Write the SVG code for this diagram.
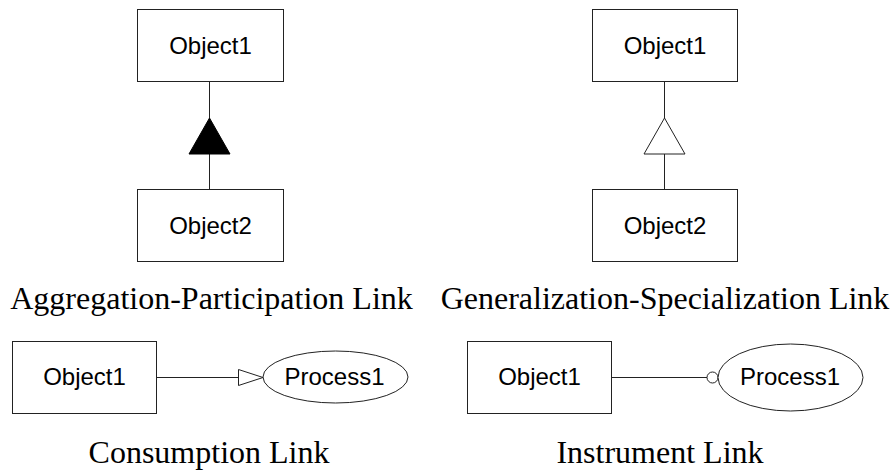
<svg xmlns="http://www.w3.org/2000/svg" width="893" height="471" viewBox="0 0 893 471">
<style>
.box{fill:#fff;stroke:#222;stroke-width:1}
.lbl{font-family:"Liberation Sans",Arial,sans-serif;font-size:24px;fill:#000;text-anchor:middle}
.cap{font-family:"Liberation Serif","Times New Roman",serif;font-size:32px;fill:#000;text-anchor:middle}
.ln{stroke:#222;stroke-width:1;fill:none}
</style>
<rect width="893" height="471" fill="#fff"/>
<g id="connectors">
<line class="ln" x1="209.5" y1="82" x2="209.5" y2="118"/>
<line class="ln" x1="209.5" y1="154" x2="209.5" y2="189"/>
<polygon points="209.5,118 230,154 189,154" fill="#000" stroke="#000" stroke-width="1"/>
<line class="ln" x1="664.5" y1="82" x2="664.5" y2="118"/>
<line class="ln" x1="664.5" y1="154" x2="664.5" y2="189"/>
<polygon points="664.5,118 685,154 644,154" fill="#fff" stroke="#222" stroke-width="1"/>
<line class="ln" x1="157" y1="377.5" x2="238.5" y2="377.5"/>
<polygon points="238.5,369.5 263,377.5 238.5,385.5" fill="#fff" stroke="#222" stroke-width="1"/>
<line class="ln" x1="612" y1="377.5" x2="707" y2="377.5"/>
<circle cx="712.5" cy="377.5" r="5.5" fill="#fff" stroke="#222" stroke-width="1"/>
</g>
<g id="agg-object1"><rect class="box" x="137.5" y="9.5" width="146" height="72"/><text class="lbl" x="210.5" y="54">Object1</text></g>
<g id="agg-object2"><rect class="box" x="137.5" y="189.5" width="146" height="72"/><text class="lbl" x="210.5" y="234">Object2</text></g>
<g id="gen-object1"><rect class="box" x="592.5" y="9.5" width="145" height="72"/><text class="lbl" x="665" y="54">Object1</text></g>
<g id="gen-object2"><rect class="box" x="592.5" y="189.5" width="145" height="72"/><text class="lbl" x="665" y="234">Object2</text></g>
<g id="con-object1"><rect class="box" x="12.5" y="341.5" width="144" height="72"/><text class="lbl" x="84.5" y="385">Object1</text></g>
<g id="con-process1"><ellipse class="box" cx="335.5" cy="377" rx="72.5" ry="26"/><text class="lbl" x="334.5" y="385">Process1</text></g>
<g id="ins-object1"><rect class="box" x="467.5" y="341.5" width="144" height="72"/><text class="lbl" x="539.5" y="385">Object1</text></g>
<g id="ins-process1"><ellipse class="box" cx="790.5" cy="377.5" rx="72.5" ry="33.5"/><text class="lbl" x="790" y="385">Process1</text></g>
<text class="cap" x="211.5" y="309">Aggregation-Participation Link</text>
<text class="cap" x="665" y="309">Generalization-Specialization Link</text>
<text class="cap" x="209" y="463">Consumption Link</text>
<text class="cap" x="660" y="463">Instrument Link</text>
</svg>
